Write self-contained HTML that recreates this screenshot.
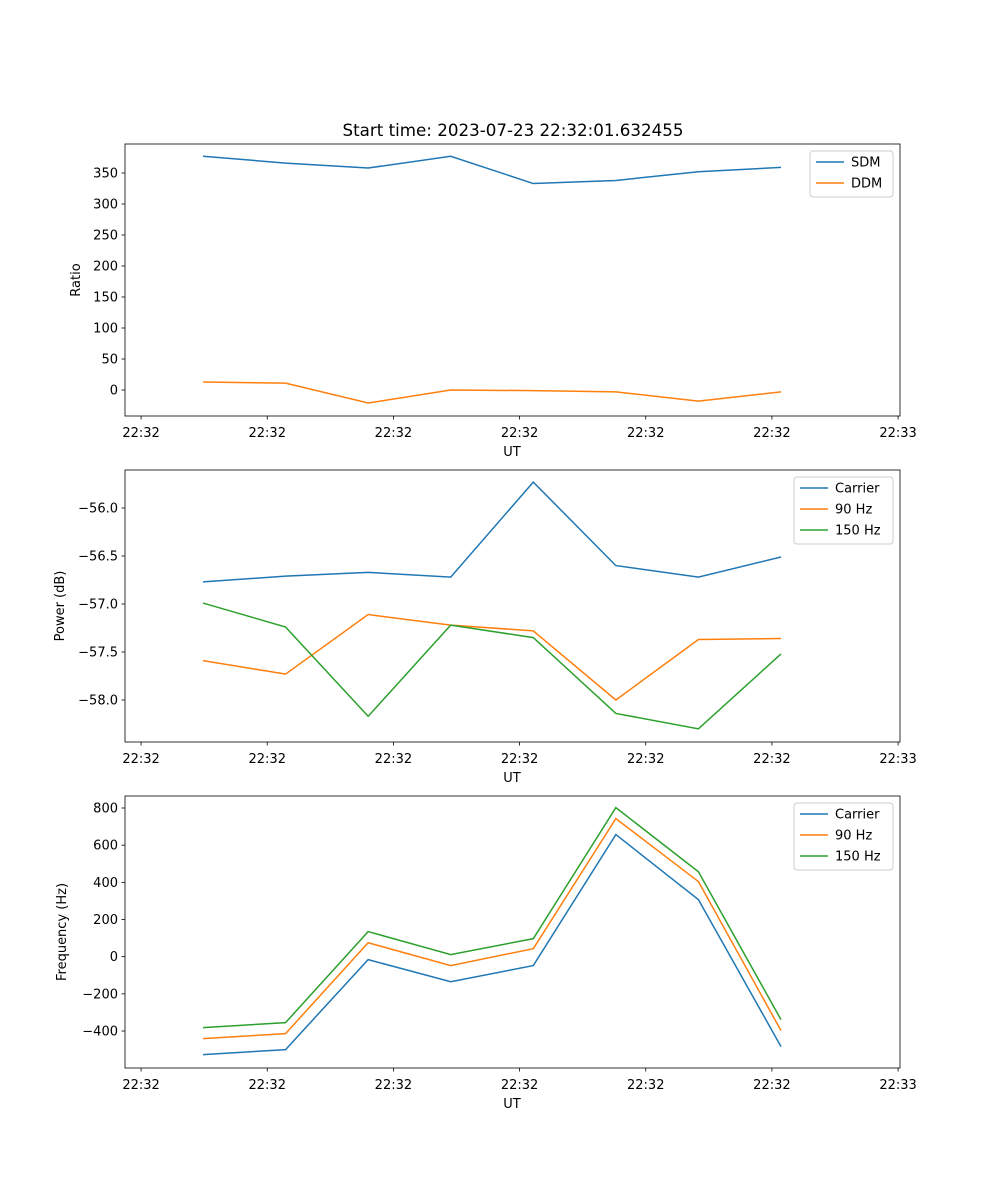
<!DOCTYPE html>
<html><head><meta charset="utf-8"><style>
body{margin:0;background:#fff}
svg{display:block;font-family:"DejaVu Sans","Liberation Sans",sans-serif}
</style></head><body>
<svg id="fig" width="1000" height="1200" xmlns="http://www.w3.org/2000/svg">
<text x="513" y="136" font-size="16.7" text-anchor="middle">Start time: 2023-07-23 22:32:01.632455</text>
</svg>
<script>
const xIdx=[0,1,2,3,4,5,6,7];
const xTicks=[-0.75,0.778,2.306,3.834,5.362,6.89,8.418];
const xTickLabels=["22:32","22:32","22:32","22:32","22:32","22:32","22:33"];
const sdm=[377,366,358,377,333,338,352,359];
const ddm=[13,11,-21,0,-1,-3,-18,-3];
const pCarrier=[-56.77,-56.71,-56.67,-56.72,-55.73,-56.60,-56.72,-56.51];
const p90=[-57.59,-57.73,-57.11,-57.22,-57.28,-58.00,-57.37,-57.36];
const p150=[-56.99,-57.24,-58.17,-57.22,-57.35,-58.14,-58.30,-57.52];
const fCarrier=[-527,-500,-16,-135,-48,657,307,-484];
const f90=[-441,-414,75,-48,43,743,404,-398];
const f150=[-382,-355,135,11,97,802,457,-339];
const t1=[0,50,100,150,200,250,300,350];
const t2=[-58.0,-57.5,-57.0,-56.5,-56.0];
const t3=[-400,-200,0,200,400,600,800];

const NS="http://www.w3.org/2000/svg";
const svg=document.getElementById('fig');
function mk(tag,attrs,parent){const e=document.createElementNS(NS,tag);for(const k in attrs)e.setAttribute(k,attrs[k]);(parent||svg).appendChild(e);return e;}
const L=125,R=900;
const xs=v=>203+(v)*(781-203)/7;
const C=['#1f77b4','#ff7f0e','#2ca02c'];

function panel(key,top,bot,yA,yB,pA,pB,ticks,fmt,ylabel,series,names,leg){
  const g=mk('g',{});
  
  
  const ys=v=>pA+(v-yA)*(pB-pA)/(yB-yA);
  series.forEach((s,i)=>{
    const p=mk('polyline',{points:s.map((v,j)=>xs(xIdx[j])+','+ys(v)).join(' '),fill:'none',stroke:C[i],'stroke-width':1.5},g);
    
    
  });
  mk('rect',{x:L,y:top,width:R-L,height:bot-top,fill:'none',stroke:'#000','stroke-width':0.8},g);
  xTicks.forEach((t,i)=>{const x=xs(t);
    mk('line',{x1:x,x2:x,y1:bot,y2:bot+3.5,stroke:'#000','stroke-width':0.8},g);
    const tx=mk('text',{x:x,y:bot+21,'font-size':13,'text-anchor':'middle'},g);tx.textContent=xTickLabels[i];
    
    
  });
  const xl=mk('text',{x:512,y:bot+40,'font-size':13,'text-anchor':'middle'},g);xl.textContent='UT';
  
  
  ticks.forEach(t=>{const y=ys(t);
    mk('line',{x1:L-3.5,x2:L,y1:y,y2:y,stroke:'#000','stroke-width':0.8},g);
    const tx=mk('text',{x:L-7,y:y+4.5,'font-size':13,'text-anchor':'end'},g);tx.textContent=fmt(t);
    
    
  });
  const cy=(top+bot)/2;
  const yl=mk('text',{x:0,y:0,'font-size':13,'text-anchor':'middle',transform:`translate(${leg.yl},${cy}) rotate(-90)`},g);yl.textContent=ylabel;
  
  
  const lg=mk('g',{},g);
  
  
  mk('rect',{x:leg.x,y:top+7,width:893-leg.x,height:names.length*21+4,rx:3,fill:'#fff','fill-opacity':0.8,stroke:'#ccc'},lg);
  names.forEach((n,i)=>{const y=top+18+i*21;
    mk('line',{x1:leg.x+6,x2:leg.x+34,y1:y,y2:y,stroke:C[i],'stroke-width':1.5},lg);
    const tx=mk('text',{x:leg.x+41,y:y+4.5,'font-size':13},lg);tx.textContent=n;
    
    
  });
}
const m=t=>t<0?'\u2212'+Math.abs(t):''+t;
panel('ratio',144,416,0,350,390,173,t1,m,'Ratio',[sdm,ddm],['SDM','DDM'],{x:810,yl:80});
panel('power',470,742,-56,-58,508,700,t2,t=>m(t.toFixed(1)*1).replace(/^(\u2212?\d+)$/,'$1.0'),'Power (dB)',[pCarrier,p90,p150],['Carrier','90 Hz','150 Hz'],{x:794,yl:64});
panel('freq',796,1068,800,-400,808,1031,t3,m,'Frequency (Hz)',[fCarrier,f90,f150],['Carrier','90 Hz','150 Hz'],{x:794,yl:66});
</script>
</body></html>
